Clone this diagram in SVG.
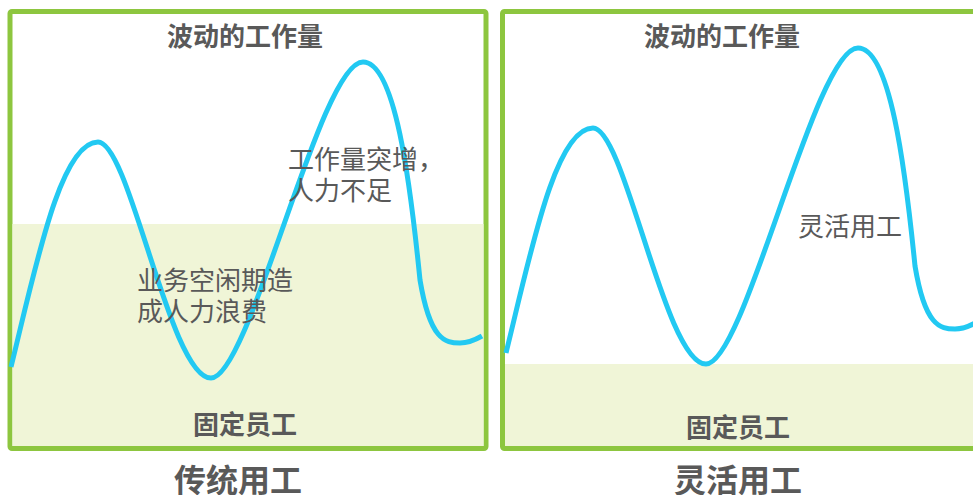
<svg xmlns="http://www.w3.org/2000/svg" xmlns:xlink="http://www.w3.org/1999/xlink" width="973" height="495" viewBox="0 0 973 495">
<style>
.frame{fill:#ffffff;stroke:#8dc63f;stroke-width:5}
.base{fill:#f0f5d7}
.wave{fill:none;stroke:#22c9f2;stroke-width:5;stroke-linecap:butt;stroke-linejoin:round}
.t{font-family:"Noto Sans CJK SC","Noto Sans",sans-serif;fill:#595959}
.b{font-weight:bold;font-size:26px}
.n{font-size:26px}
.big{font-weight:bold;font-size:32px}
</style>
<defs>
<path id="wavePath" class="wave" d="M11,367 C35,270 60,142 98,142 C130,142 170,378 211,378 C250,378 320,62 363,62 C395,62 410,180 420,280 C430,340 445,343 460,343 C468,343 475,340 482,336"/>
</defs>
<rect width="973" height="495" fill="#ffffff"/>
<g id="panel-traditional">
<rect class="frame" x="10" y="11.5" width="476" height="437" rx="2"/>
<rect class="base" x="12.5" y="224" width="471" height="222"/>
<use xlink:href="#wavePath"/>
<text class="t b" x="245" y="46" text-anchor="middle">波动的工作量</text>
<text class="t n" x="288" y="169">工作量突增，</text>
<text class="t n" x="288" y="200">人力不足</text>
<text class="t n" x="137" y="290">业务空闲期造</text>
<text class="t n" x="137" y="321">成人力浪费</text>
<text class="t b" x="245" y="434" text-anchor="middle">固定员工</text>
</g>
<g id="panel-flexible">
<rect class="frame" x="502.5" y="11.5" width="480" height="437" rx="2"/>
<rect class="base" x="505" y="364" width="470" height="82"/>
<use xlink:href="#wavePath" transform="translate(495,-14)"/>
<text class="t b" x="722" y="46" text-anchor="middle">波动的工作量</text>
<text class="t n" x="798" y="236">灵活用工</text>
<text class="t b" x="738" y="437" text-anchor="middle">固定员工</text>
</g>
<g id="captions">
<text class="t big" x="238" y="492" text-anchor="middle">传统用工</text>
<text class="t big" x="738" y="492" text-anchor="middle">灵活用工</text>
</g>
<g id="connectors"/>
</svg>
